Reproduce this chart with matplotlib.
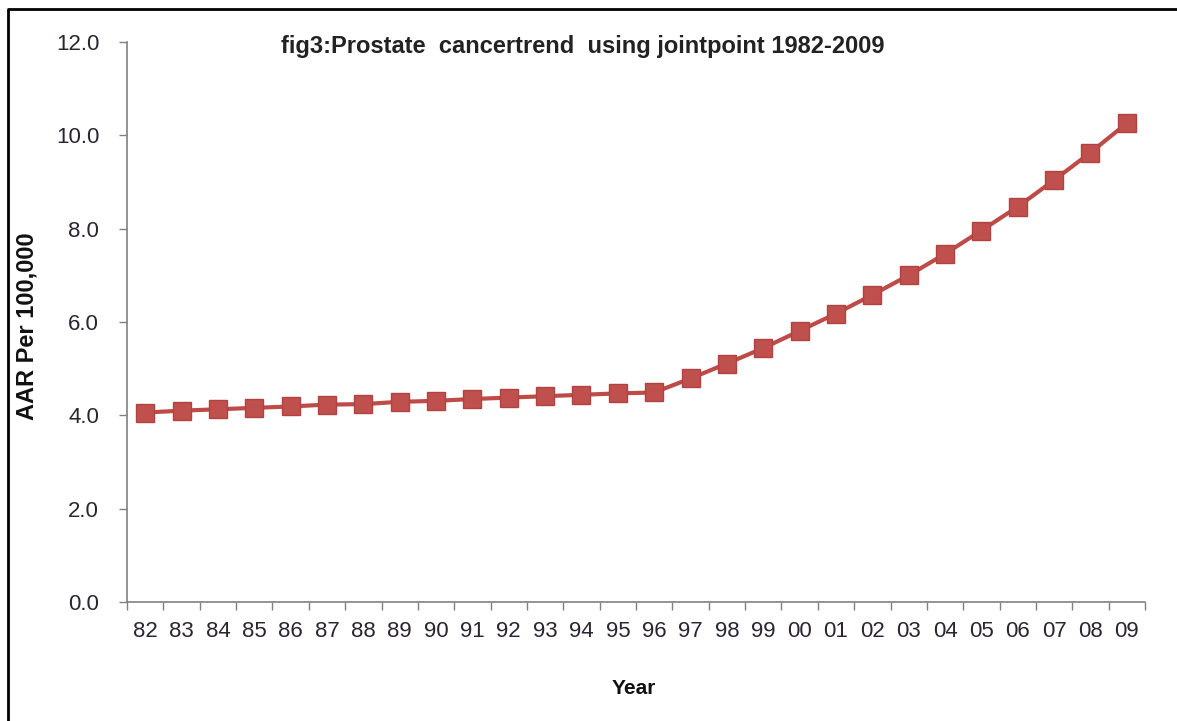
import matplotlib
matplotlib.use("Agg")
import matplotlib.pyplot as plt
from matplotlib.lines import Line2D
from matplotlib.ticker import FixedLocator, NullFormatter

plt.rcParams['font.family'] = ['Liberation Sans', 'DejaVu Sans']

# data
years = ['82', '83', '84', '85', '86', '87', '88', '89', '90', '91', '92', '93', '94', '95',
         '96', '97', '98', '99', '00', '01', '02', '03', '04', '05', '06', '07', '08', '09']
aar = [4.06, 4.10, 4.13, 4.16, 4.19, 4.23, 4.24, 4.29, 4.31, 4.35, 4.38, 4.41, 4.44, 4.47,
       4.49, 4.79, 5.11, 5.44, 5.81, 6.18, 6.58, 7.00, 7.46, 7.96, 8.47, 9.04, 9.63, 10.26]
y_ticks = [0, 2, 4, 6, 8, 10, 12]

W, H = 1177, 721
fig = plt.figure(figsize=(W / 100, H / 100), dpi=100)
ax = fig.add_axes([127 / W, 1 - 602 / H, (1145 - 127) / W, (602 - 42) / H])

x = list(range(len(years)))
ax.plot(x, aar, color='#BE4B48', lw=3, marker='s', markersize=13,
        markerfacecolor='#C0504D', markeredgecolor='#B04340', markeredgewidth=1)

ax.set_xlim(-0.5, len(years) - 0.5)
ax.set_ylim(0, 12)

# category labels at centres, tick marks between categories
ax.set_xticks(x)
ax.set_xticklabels(years)
ax.xaxis.set_minor_locator(FixedLocator([i - 0.5 for i in range(len(years) + 1)]))
ax.xaxis.set_minor_formatter(NullFormatter())
ax.tick_params(axis='x', which='major', length=0, pad=14, labelsize=16, labelcolor='#2a2530')
ax.tick_params(axis='x', which='minor', length=6, width=1, color='#808080', direction='out')

ax.set_yticks(y_ticks)
ax.set_yticklabels(['%.1f' % v for v in y_ticks])
ax.tick_params(axis='y', length=6, width=1, color='#808080', direction='out', pad=14,
               labelsize=16, labelcolor='#2a2530')

for s in ['top', 'right']:
    ax.spines[s].set_visible(False)
for s in ['left', 'bottom']:
    ax.spines[s].set_color('#808080')
    ax.spines[s].set_linewidth(1.2)

fig.text(583 / W, 1 - 46 / H, 'fig3:Prostate  cancertrend  using jointpoint 1982-2009',
         ha='center', va='center', fontsize=17, fontweight='bold', color='#222222')
fig.text(27 / W, 1 - 326 / H, 'AAR Per 100,000', rotation=90, ha='center', va='center',
         fontsize=17, fontweight='bold', color='#111111')
fig.text(634 / W, 1 - 688 / H, 'Year', ha='center', va='center',
         fontsize=15, fontweight='bold', color='#111111')

# outer frame (left and top edges only visible)
fig.add_artist(Line2D([8 / W, 8 / W, 1], [0, 1 - 9 / H, 1 - 9 / H],
                      transform=fig.transFigure, color='black', lw=2))

fig.savefig('out.png', dpi=100)
